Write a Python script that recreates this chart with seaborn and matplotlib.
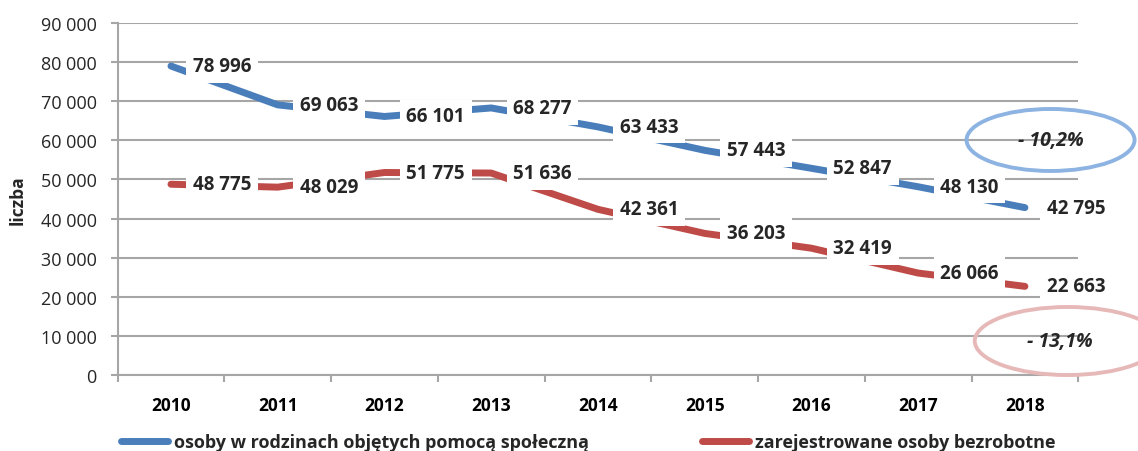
import matplotlib
matplotlib.use("Agg")
import matplotlib.pyplot as plt
from matplotlib.patches import Ellipse
from matplotlib.lines import Line2D
from matplotlib.ticker import FuncFormatter, FixedLocator
import seaborn as sns
import pandas as pd

years = ["2010", "2011", "2012", "2013", "2014", "2015", "2016", "2017", "2018"]
pomoc = [78996, 69063, 66101, 68277, 63433, 57443, 52847, 48130, 42795]
bezrobotne = [48775, 48029, 51775, 51636, 42361, 36203, 32419, 26066, 22663]
series_names = ["osoby w rodzinach objętych pomocą społeczną", "zarejestrowane osoby bezrobotne"]
changes = ["- 10,2%", "- 13,1%"]
y_label = "liczba"

sns.set_theme(style="white")
plt.rcParams["font.family"] = ["Open Sans", "DejaVu Sans"]

blue = "#4A7EBB"
red = "#BE4B48"
grid_c = "#A6A6A6"

fig = plt.figure(figsize=(11.38, 4.52), dpi=100)
ax = fig.add_axes([117.6 / 1138, 76 / 452, 960.7 / 1138, 352 / 452])

idx = list(range(len(years)))
df = pd.DataFrame({"x": idx * 2,
                   "y": pomoc + bezrobotne,
                   "s": [series_names[0]] * len(years) + [series_names[1]] * len(years)})
sns.lineplot(data=df, x="x", y="y", hue="s", palette=[blue, red], linewidth=5,
             sort=False, legend=False, ax=ax, zorder=3)
for l in ax.lines:
    l.set_solid_capstyle("round")
    l.set_solid_joinstyle("round")

ax.set_xlim(-0.5, len(years) - 0.5)
ax.set_ylim(0, 90000)
ax.set_yticks(range(0, 90001, 10000))
ax.yaxis.set_major_formatter(FuncFormatter(lambda v, p: f"{int(v):,}".replace(",", " ")))
ax.set_xticks(idx)
ax.set_xticklabels(years, fontweight="bold")
ax.xaxis.set_minor_locator(FixedLocator([i - 0.5 for i in range(len(years) + 1)]))
ax.tick_params(axis="x", which="major", length=0, pad=15, labelsize=12.5, colors="black")
ax.tick_params(axis="x", which="minor", length=5, width=1.5, color=grid_c, bottom=True)
ax.tick_params(axis="y", length=5, width=1.5, color=grid_c, pad=10, labelsize=13, left=True)
ax.grid(axis="y", color=grid_c, linewidth=1.5)
ax.set_axisbelow(True)
for s in ["top", "right"]:
    ax.spines[s].set_visible(False)
for s in ["left", "bottom"]:
    ax.spines[s].set_color(grid_c)
    ax.spines[s].set_linewidth(1.5)
ax.set_xlabel("")
ax.set_ylabel(y_label, fontweight="bold", fontsize=12.5)
ax.yaxis.set_label_coords(-0.095, 0.5)

for series in (pomoc, bezrobotne):
    for i, v in enumerate(series):
        ax.annotate(f"{v:,}".replace(",", " "), xy=(i, v), xytext=(22, 0),
                    textcoords="offset pixels", ha="left", va="center",
                    fontsize=13.5, fontweight="bold", zorder=5,
                    bbox=dict(boxstyle="square,pad=0.35", fc="white", ec="none"))

e1 = Ellipse((8.24, 60090), 1.574, 15850, fill=False, ec="#8DB3E2", lw=2.8, clip_on=False, zorder=6)
e2 = Ellipse((8.40, 8690), 1.74, 17400, fill=False, ec="#E6B9B8", lw=2.8, clip_on=False, zorder=6)
ax.add_patch(e1)
ax.add_patch(e2)
ax.text(8.24, 60090, changes[0], ha="center", va="center", fontsize=14,
        fontweight="bold", fontstyle="italic", zorder=7)
ax.text(8.33, 8600, changes[1], ha="center", va="center", fontsize=14,
        fontweight="bold", fontstyle="italic", zorder=7)

handles = [Line2D([], [], color=blue, lw=5, solid_capstyle="round"),
           Line2D([], [], color=red, lw=5, solid_capstyle="round")]
leg = fig.legend(handles, series_names, loc="center", bbox_to_anchor=(0.517, 0.02),
                 ncol=2, frameon=False, handlelength=2.6, handletextpad=0.3,
                 columnspacing=6.3, prop={"weight": "bold", "size": 13})

fig.savefig("out.png", dpi=100)
